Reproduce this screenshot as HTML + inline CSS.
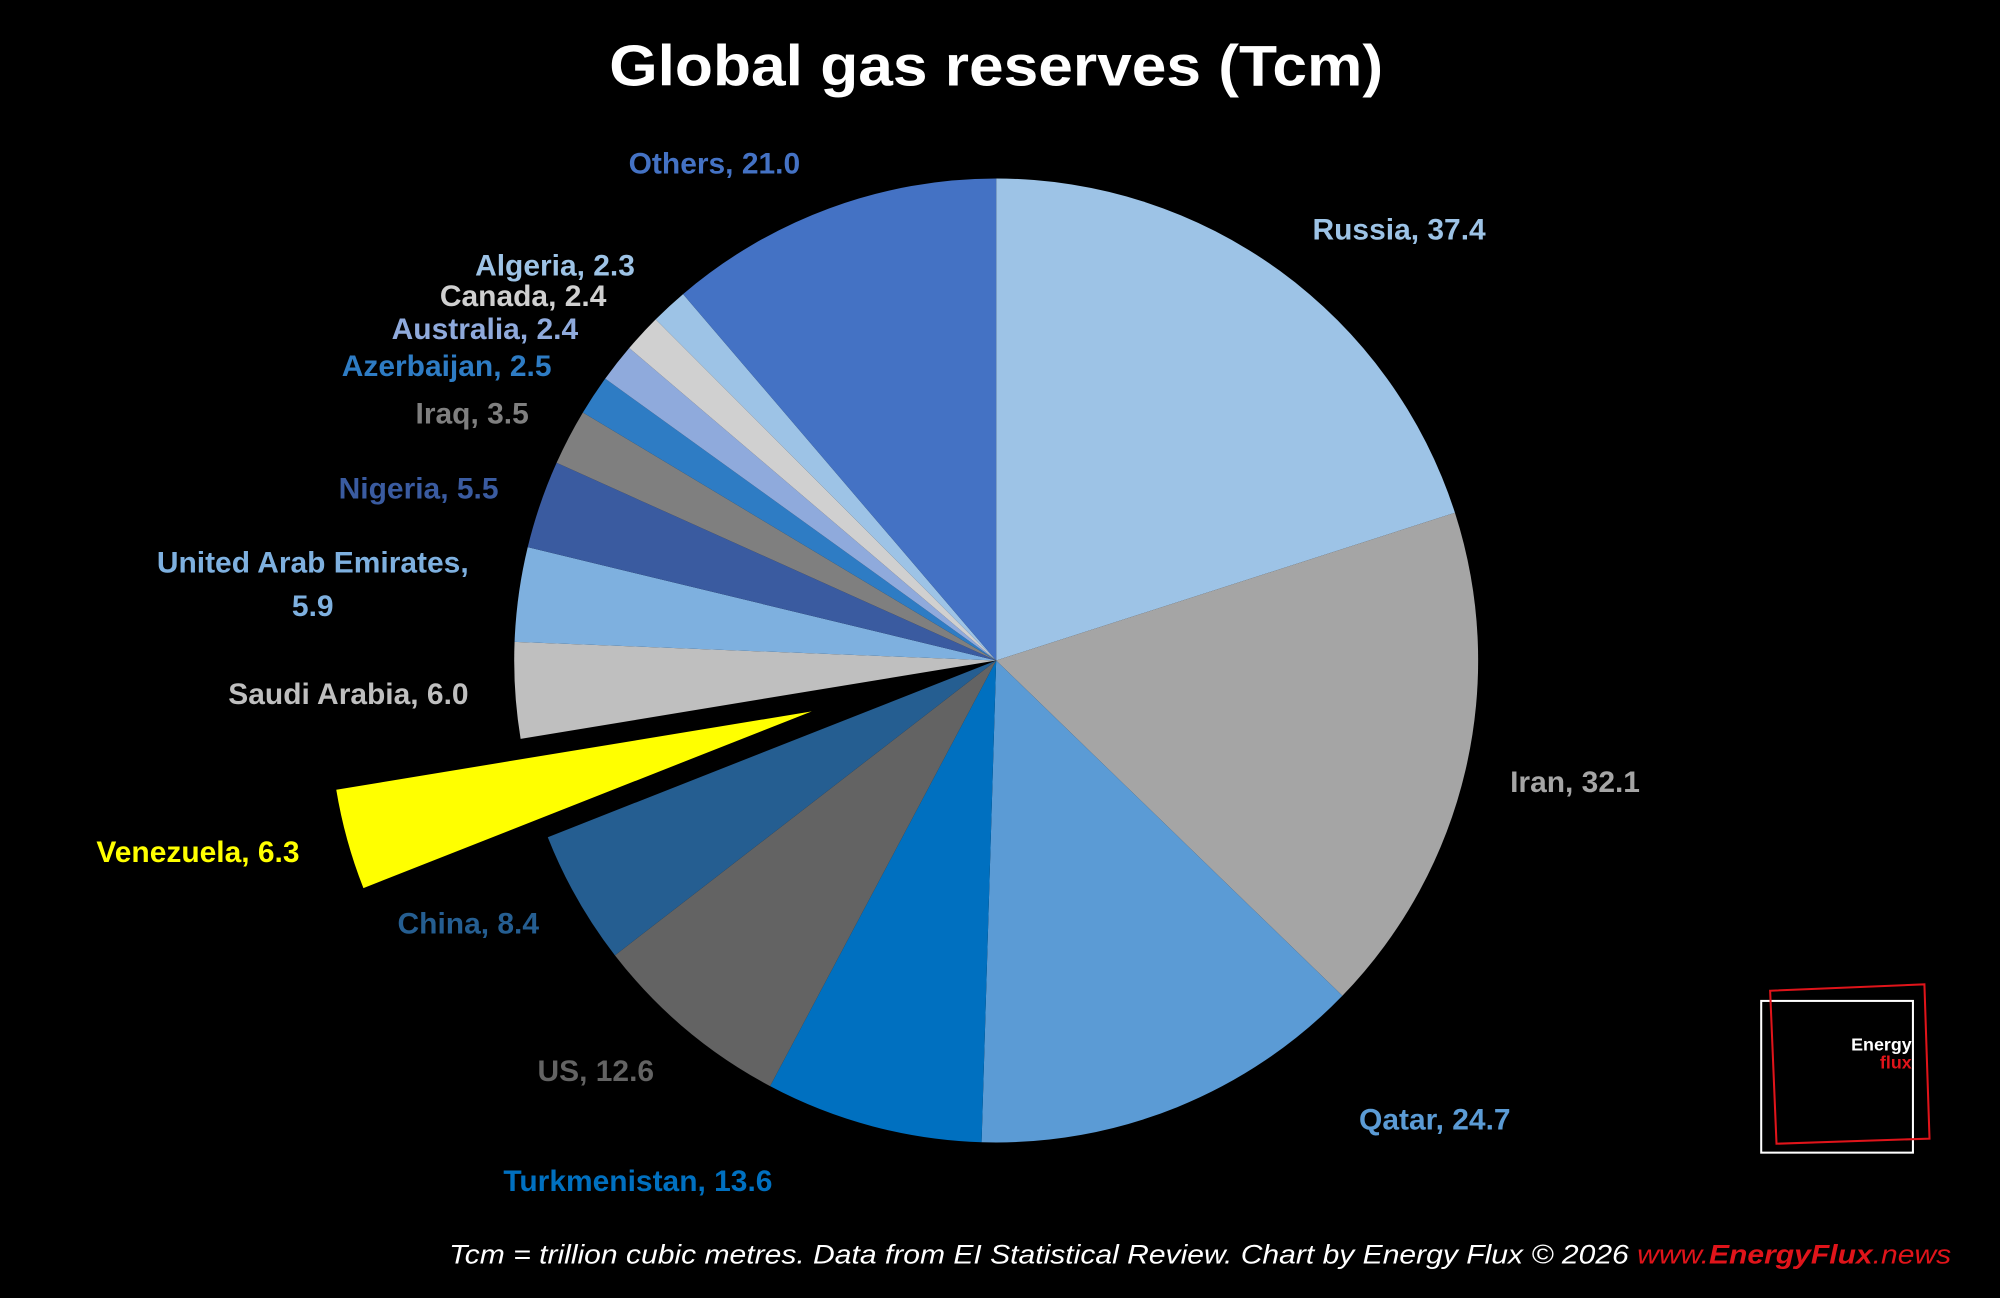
<!DOCTYPE html>
<html><head><meta charset="utf-8"><style>
html,body{margin:0;padding:0;background:#000;}
svg{display:block;}
text{font-family:"Liberation Sans",sans-serif;font-weight:bold;}
</style></head><body>
<svg id="s" width="2000" height="1298" viewBox="0 0 1568 1018" xmlns="http://www.w3.org/2000/svg">
<rect width="1568" height="1018" fill="#000"/>
<g id="pie"></g>
<text x="781" y="67" text-anchor="middle" font-size="45" fill="#fff" textLength="607" lengthAdjust="spacingAndGlyphs">Global gas reserves (Tcm)</text>
<g font-size="23.5">
<text x="560" y="136" text-anchor="middle" fill="#4472C4">Others, 21.0</text>
<text x="1097" y="188" text-anchor="middle" fill="#9DC3E6">Russia, 37.4</text>
<text x="435" y="216" text-anchor="middle" fill="#9DC3E6">Algeria, 2.3</text>
<text x="410" y="240" text-anchor="middle" fill="#D0D0D0">Canada, 2.4</text>
<text x="380" y="266" text-anchor="middle" fill="#8FAADC">Australia, 2.4</text>
<text x="350" y="295" text-anchor="middle" fill="#2E7CC4">Azerbaijan, 2.5</text>
<text x="370" y="332" text-anchor="middle" fill="#7F7F7F">Iraq, 3.5</text>
<text x="328" y="391" text-anchor="middle" fill="#3A5BA0">Nigeria, 5.5</text>
<text x="245" y="449" text-anchor="middle" fill="#7EB0DF">United Arab Emirates,</text>
<text x="245" y="483" text-anchor="middle" fill="#7EB0DF">5.9</text>
<text x="273" y="552" text-anchor="middle" fill="#BFBFBF">Saudi Arabia, 6.0</text>
<text x="155" y="676" text-anchor="middle" fill="#FFFF00">Venezuela, 6.3</text>
<text x="367" y="732" text-anchor="middle" fill="#255E91">China, 8.4</text>
<text x="467" y="848" text-anchor="middle" fill="#636363">US, 12.6</text>
<text x="500" y="934" text-anchor="middle" fill="#0070C0">Turkmenistan, 13.6</text>
<text x="1125" y="886" text-anchor="middle" fill="#5B9BD5">Qatar, 24.7</text>
<text x="1235" y="621" text-anchor="middle" fill="#A5A5A5">Iran, 32.1</text>
</g>
<text x="1530" y="991" text-anchor="end" font-size="21" font-style="italic" fill="#fff" textLength="1178" lengthAdjust="spacingAndGlyphs" style="font-weight:normal">Tcm = trillion cubic metres. Data from EI Statistical Review. Chart by Energy Flux © 2026 <tspan fill="#e0141a">www.<tspan style="font-weight:bold">EnergyFlux</tspan>.news</tspan></text>
<rect x="1381" y="785" width="119" height="119" fill="none" stroke="#fff" stroke-width="1.6"/>
<polygon points="1388,777 1509,772 1513,893 1393,897" fill="none" stroke="#e0141a" stroke-width="1.6"/>
<text x="1499" y="824" text-anchor="end" font-size="14" fill="#fff">Energy</text>
<text x="1499" y="838" text-anchor="end" font-size="14" fill="#e0141a">flux</text>
</svg>
<script>
var d=[[37.4,"#9DC3E6"],[32.1,"#A5A5A5"],[24.7,"#5B9BD5"],[13.6,"#0070C0"],[12.6,"#636363"],[8.4,"#255E91"],[6.3,"#FFFF00"],[6.0,"#BFBFBF"],[5.9,"#7EB0DF"],[5.5,"#3A5BA0"],[3.5,"#7F7F7F"],[2.5,"#2E7CC4"],[2.4,"#8FAADC"],[2.4,"#D0D0D0"],[2.3,"#9DC3E6"],[21.0,"#4472C4"]];
var tot=0;d.forEach(function(a){tot+=a[0]});
var cx=781,cy=518,r=378,acc=0,h="";
d.forEach(function(a,i){
 var a0=acc/tot*2*Math.PI,a1=(acc+a[0])/tot*2*Math.PI;acc+=a[0];
 var ox=0,oy=0;
 if(i==6){var m=(a0+a1)/2;ox=Math.sin(m)*150;oy=-Math.cos(m)*150;}
 var x=cx+ox,y=cy+oy;
 var x0=x+r*Math.sin(a0),y0=y-r*Math.cos(a0),x1=x+r*Math.sin(a1),y1=y-r*Math.cos(a1);
 var lg=(a1-a0)>Math.PI?1:0;
 h+='<path d="M'+x+','+y+' L'+x0+','+y0+' A'+r+','+r+' 0 '+lg+' 1 '+x1+','+y1+' Z" fill="'+a[1]+'"/>';
});
document.getElementById("pie").innerHTML=h;
</script>
</body></html>
